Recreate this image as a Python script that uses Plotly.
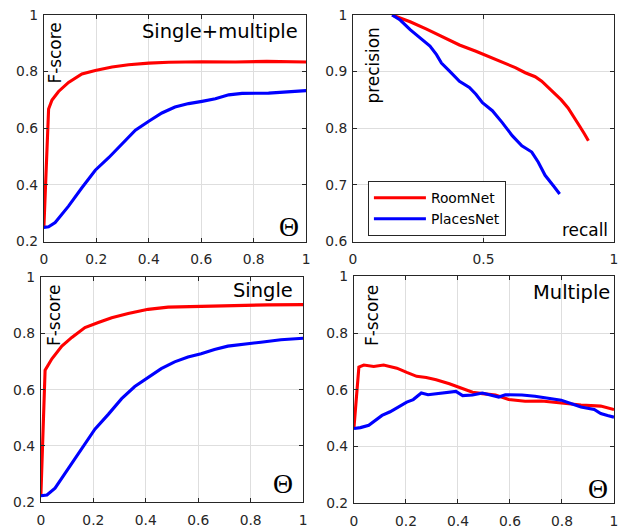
import plotly.graph_objects as go

# ---------------- data ----------------
# Panel 1: Single+multiple (F-score vs Theta)
p1_room_x = [0, 0.018, 0.031, 0.056, 0.094, 0.145, 0.196, 0.26, 0.323, 0.4, 0.476, 0.603, 0.73, 0.85, 1.0]
p1_room_y = [0.25, 0.668, 0.70, 0.73, 0.762, 0.792, 0.804, 0.816, 0.824, 0.83, 0.833, 0.835, 0.834, 0.836, 0.834]
p1_places_x = [0, 0.018, 0.043, 0.094, 0.145, 0.196, 0.247, 0.298, 0.349, 0.4, 0.45, 0.5, 0.552, 0.603, 0.654, 0.705, 0.756, 0.857, 0.934, 1.0]
p1_places_y = [0.25, 0.252, 0.267, 0.325, 0.39, 0.452, 0.496, 0.546, 0.593, 0.625, 0.654, 0.675, 0.687, 0.695, 0.704, 0.718, 0.723, 0.724, 0.729, 0.733]

# Panel 2: precision vs recall
p2_room_x = [0.15, 0.219, 0.282, 0.345, 0.408, 0.471, 0.534, 0.584, 0.622, 0.66, 0.698, 0.723, 0.748, 0.773, 0.798, 0.824, 0.849, 0.868, 0.887, 0.902]
p2_room_y = [1.0, 0.988, 0.975, 0.961, 0.947, 0.936, 0.924, 0.915, 0.907, 0.898, 0.891, 0.883, 0.872, 0.86, 0.85, 0.836, 0.819, 0.804, 0.79, 0.778]
p2_places_x = [0.15, 0.181, 0.219, 0.257, 0.295, 0.32, 0.339, 0.37, 0.408, 0.446, 0.471, 0.496, 0.534, 0.572, 0.61, 0.647, 0.685, 0.71, 0.736, 0.767, 0.792]
p2_places_y = [1.0, 0.991, 0.974, 0.959, 0.945, 0.93, 0.915, 0.901, 0.883, 0.872, 0.86, 0.845, 0.831, 0.81, 0.787, 0.769, 0.758, 0.74, 0.717, 0.699, 0.684]

# Panel 3: Single
p3_room_x = [0, 0.016, 0.042, 0.08, 0.118, 0.168, 0.219, 0.27, 0.333, 0.409, 0.485, 0.611, 0.738, 0.865, 1.0]
p3_room_y = [0.222, 0.669, 0.71, 0.755, 0.786, 0.821, 0.839, 0.856, 0.871, 0.886, 0.894, 0.897, 0.9, 0.902, 0.903]
p3_places_x = [0, 0.023, 0.054, 0.105, 0.156, 0.206, 0.257, 0.308, 0.358, 0.409, 0.459, 0.51, 0.561, 0.611, 0.662, 0.713, 0.789, 0.839, 0.915, 1.0]
p3_places_y = [0.222, 0.225, 0.249, 0.319, 0.389, 0.459, 0.512, 0.568, 0.611, 0.643, 0.675, 0.699, 0.716, 0.728, 0.743, 0.755, 0.765, 0.769, 0.778, 0.783]

# Panel 4: Multiple
p4_room_x = [0, 0.019, 0.038, 0.076, 0.114, 0.165, 0.203, 0.241, 0.278, 0.316, 0.367, 0.405, 0.456, 0.494, 0.544, 0.595, 0.658, 0.722, 0.797, 0.873, 0.949, 1.0]
p4_room_y = [0.465, 0.68, 0.687, 0.682, 0.687, 0.676, 0.661, 0.647, 0.643, 0.635, 0.621, 0.609, 0.591, 0.586, 0.581, 0.565, 0.559, 0.56, 0.553, 0.546, 0.542, 0.53]
p4_places_x = [0, 0.025, 0.057, 0.089, 0.108, 0.139, 0.177, 0.203, 0.228, 0.259, 0.285, 0.329, 0.392, 0.418, 0.456, 0.494, 0.544, 0.557, 0.582, 0.646, 0.696, 0.747, 0.797, 0.848, 0.873, 0.924, 0.949, 0.975, 1.0]
p4_places_y = [0.463, 0.466, 0.474, 0.495, 0.509, 0.522, 0.542, 0.556, 0.565, 0.588, 0.582, 0.586, 0.594, 0.579, 0.581, 0.588, 0.579, 0.574, 0.582, 0.581, 0.577, 0.571, 0.563, 0.547, 0.539, 0.530, 0.516, 0.509, 0.503]

series_names = ["RoomNet", "PlacesNet"]
theta_ticks = [0, 0.2, 0.4, 0.6, 0.8, 1]
theta_labels = ["0", "0.2", "0.4", "0.6", "0.8", "1"]
f_ticks = [0.2, 0.4, 0.6, 0.8, 1]
f_labels = ["0.2", "0.4", "0.6", "0.8", "1"]
recall_ticks = [0, 0.5, 1]
recall_labels = ["0", "0.5", "1"]
prec_ticks = [0.6, 0.7, 0.8, 0.9, 1]
prec_labels = ["0.6", "0.7", "0.8", "0.9", "1"]

# ---------------- style ----------------
RED = "#ff0000"
BLUE = "#0000ff"
FONT = "DejaVu Sans"
TXT = "#262626"
W, H = 618, 529
# observed photo transform: image = offset + scale * page pixel
SX, OX = 0.99, 2.0
SY, OY = 0.97, 8.0
FS = 1 / 0.975   # font compensation
LW = 3.1

def px_x(p):
    return min(1.0, max(0.0, ((p - OX) / SX) / W))

def px_y(p):
    return min(1.0, max(0.0, 1 - ((p - OY) / SY) / H))

fig = go.Figure()

panels = [
    (p1_room_x, p1_room_y, p1_places_x, p1_places_y, "x", "y"),
    (p2_room_x, p2_room_y, p2_places_x, p2_places_y, "x2", "y2"),
    (p3_room_x, p3_room_y, p3_places_x, p3_places_y, "x3", "y3"),
    (p4_room_x, p4_room_y, p4_places_x, p4_places_y, "x4", "y4"),
]
for i, (rx, ry, bx, by, xa, ya) in enumerate(panels):
    fig.add_trace(go.Scatter(x=rx, y=ry, mode="lines", line=dict(color=RED, width=LW),
                             name=series_names[0], showlegend=(i == 1), xaxis=xa, yaxis=ya))
    fig.add_trace(go.Scatter(x=bx, y=by, mode="lines", line=dict(color=BLUE, width=LW),
                             name=series_names[1], showlegend=(i == 1), xaxis=xa, yaxis=ya))

# target image-pixel boxes: (left, right, top, bottom)
boxes = [(42, 305, 15, 243), (352, 615, 15, 243), (39, 302, 279, 505), (353, 615, 278, 506)]

def axis_common(dom, rng, tv, tt, anchor, is_x):
    d = dict(domain=dom, range=rng, tickvals=tv, ticktext=tt, anchor=anchor,
             showgrid=True, gridcolor="#dedede", gridwidth=1,
             showline=True, linecolor=TXT, linewidth=1, mirror="all",
             ticks="inside", ticklen=4, tickcolor=TXT,
             zeroline=False, fixedrange=True,
             tickfont=dict(family=FONT, size=13.5 * FS, color=TXT))
    if is_x:
        d["ticklabeloverflow"] = "allow"
        d["ticklabelstandoff"] = 5
    else:
        d["ticklabelstandoff"] = 2
    return d

xcfg = [(theta_ticks, theta_labels, [0, 1]), (recall_ticks, recall_labels, [0, 1]),
        (theta_ticks, theta_labels, [0, 1]), (theta_ticks, theta_labels, [0, 1])]
ycfg = [(f_ticks, f_labels, [0.2, 1]), (prec_ticks, prec_labels, [0.6, 1]),
        (f_ticks, f_labels, [0.2, 1]), (f_ticks, f_labels, [0.2, 1])]

layout = {}
for i, (l, r, t, b) in enumerate(boxes):
    suf = "" if i == 0 else str(i + 1)
    xtv, xtt, xr = xcfg[i]
    ytv, ytt, yr = ycfg[i]
    layout["xaxis" + suf] = axis_common([px_x(l), px_x(r)], xr, xtv, xtt, "y" + suf, True)
    layout["yaxis" + suf] = axis_common([px_y(b), px_y(t)], yr, ytv, ytt, "x" + suf, False)

fig.update_layout(**layout)

ann = []
def text(x, y, s, size, angle=0, family=FONT, xanchor="center", yanchor="middle", color="#000000"):
    ann.append(dict(x=px_x(x), y=px_y(y), xref="paper", yref="paper", text=s, showarrow=False,
                    textangle=angle, xanchor=xanchor, yanchor=yanchor,
                    font=dict(family=family, size=size * FS, color=color)))

# titles (top right inside each panel)
text(299, 32, "Single+multiple", 19, xanchor="right")
text(294, 292, "Single", 19, xanchor="right")
text(612, 294, "Multiple", 19, xanchor="right")
# y labels
text(53, 53, "F-score", 16.5, angle=-90)
text(52, 317, "F-score", 16.5, angle=-90)
text(371, 317, "F-score", 16.5, angle=-90)
text(372, 66, "precision", 16.5, angle=-90)
# x labels
text(610, 231, "recall", 16.5, xanchor="right")
text(288, 228, "Θ", 27, family="Liberation Serif")
text(282, 486, "Θ", 27, family="Liberation Serif")
text(598, 491, "Θ", 27, family="Liberation Serif")

fig.update_layout(
    annotations=ann,
    width=W, height=H,
    margin=dict(l=0, r=0, t=0, b=0),
    paper_bgcolor="white", plot_bgcolor="white",
    font=dict(family=FONT, color=TXT),
    legend=dict(x=px_x(367), y=px_y(210), xanchor="left", yanchor="middle",
                bgcolor="white", bordercolor=TXT, borderwidth=1,
                font=dict(family=FONT, size=13.5 * FS, color="#000000"),
                tracegroupgap=0, itemwidth=52),
)

fig.write_html("out.html", config={"displayModeBar": False},
               post_script="document.body.style.margin='0';document.body.style.overflow='hidden';")
